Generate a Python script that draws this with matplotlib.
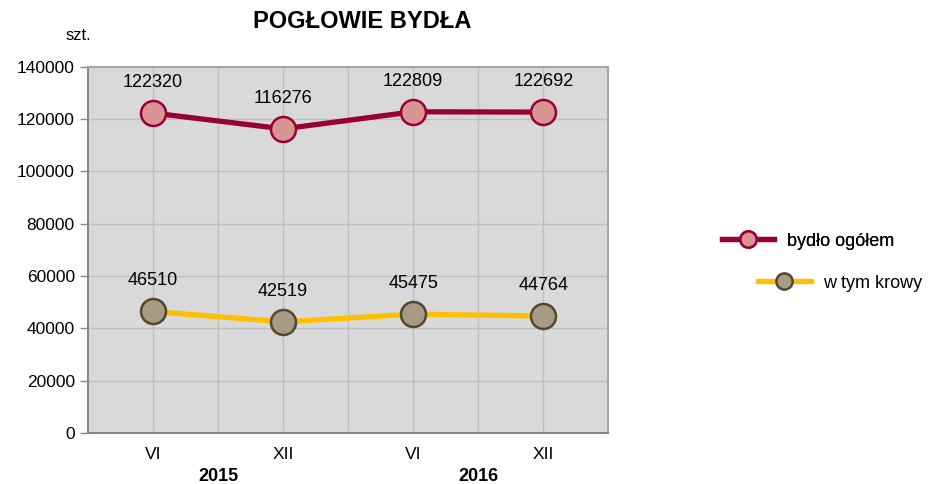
import matplotlib
matplotlib.use("Agg")
import matplotlib.pyplot as plt

months = ["VI", "XII", "VI", "XII"]
years = ["2015", "2016"]
bydlo = [122320, 116276, 122809, 122692]
krowy = [46510, 42519, 45475, 44764]

plt.rcParams['font.family'] = ['Liberation Sans', 'DejaVu Sans']

fig = plt.figure(figsize=(9.31, 4.84), dpi=100)
ax = fig.add_axes([0.0945, 0.105, 0.559, 0.757])
ax.set_facecolor("#d9d9d9")

xs = [1, 3, 5, 7]
l1, = ax.plot(xs, bydlo, color="#990033", lw=3.8, marker="o", ms=18,
              mfc="#d99594", mec="#990033", mew=1.8, zorder=3)
l2, = ax.plot(xs, krowy, color="#ffc000", lw=3.8, marker="o", ms=18,
              mfc="#a99a86", mec="#4f4a2a", mew=1.8, zorder=3)

for x, v in zip(xs, bydlo):
    ax.annotate(str(v), (x, v), xytext=(0, 16), textcoords="offset points",
                ha="center", va="bottom", fontsize=13)
for x, v in zip(xs, krowy):
    ax.annotate(str(v), (x, v), xytext=(0, 16), textcoords="offset points",
                ha="center", va="bottom", fontsize=13)

ax.set_xlim(0, 8)
ax.set_ylim(0, 140000)
ax.set_yticks(range(0, 140001, 20000))
ax.set_xticks(xs)
ax.set_xticklabels(months, fontsize=12.5)
ax.tick_params(axis="y", labelsize=12.5, length=6, color="#888888", width=1)
ax.tick_params(axis="x", which="both", length=0, pad=10)
ax.grid(True, which="major", axis="y", color="#bfbfbf", lw=1)
for gx in range(1, 8):
    ax.axvline(gx, color="#bfbfbf", lw=1, zorder=0.5)
ax.set_axisbelow(True)
for s in ax.spines.values():
    s.set_color("#a6a6a6")
    s.set_linewidth(1.5)
ax.spines["left"].set_color("#888888")
ax.spines["bottom"].set_color("#888888")

for i, y in enumerate(years):
    ax.text(2 + 4 * i, -0.118, y, transform=ax.get_xaxis_transform(),
            ha="center", va="center", fontsize=13, fontweight="bold")

fig.text(0.389, 0.955, "POGŁOWIE BYDŁA", ha="center", va="center",
         fontsize=17, fontweight="bold")
fig.text(0.084, 0.927, "szt.", ha="center", va="center", fontsize=12)

leg1 = fig.legend(handles=[l1], labels=["bydło ogółem"], loc="center left",
                  bbox_to_anchor=(0.758, 0.502), frameon=False, fontsize=13,
                  handlelength=2.9, markerscale=0.65, handletextpad=0.7)
fig.add_artist(leg1)
fig.legend(handles=[l2], labels=["w tym krowy"], loc="center left",
           bbox_to_anchor=(0.797, 0.415), frameon=False, fontsize=13,
           handlelength=2.9, markerscale=0.65, handletextpad=0.7)

fig.savefig("out.png", dpi=100)
